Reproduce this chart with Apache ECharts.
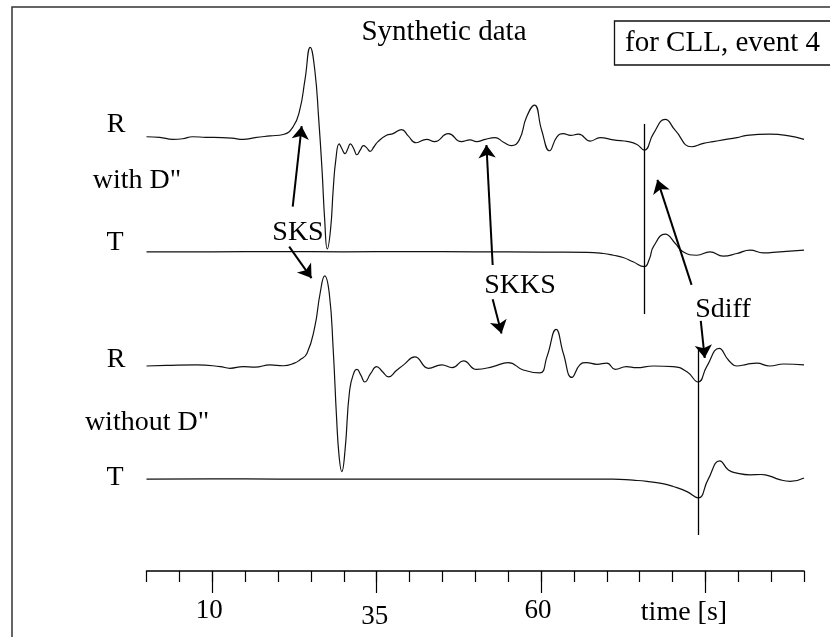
<!DOCTYPE html>
<html><head><meta charset="utf-8">
<script src="https://cdn.jsdelivr.net/npm/echarts@6/dist/echarts.min.js"></script>
<style>html,body{margin:0;padding:0;background:#fff}#c{width:830px;height:637px}</style>
</head><body><div id="c"></div><script>
// ---- axis ticks ----
const tickValues = [0,5,10,15,20,25,30,35,40,45,50,55,60,65,70,75,80,85,90,95,100];
const majorTicks = [10,35,60,85];
const tickLabels = [10,35,60];
const axisTitle = 'time [s]';

// ---- trace baselines (amplitude units) ----
const baseR1 = 75.9, baseT1 = 55.9, baseR2 = 35.9, baseT2 = 16.1;

// ---- traces: [time s, amplitude] ----
const R_withD = [[0,0.15],[2,0.05],[4,-0.3],[5.5,-0.2],[7,0.15],[9,0.05],[11.5,0],[13,-0.1],[14.7,-0.3],[16.5,0],[18.8,0.3],[20.8,0.55],[22.3,1.9],[23.3,4.8],[24.1,10.1],[24.9,15.8],[25.6,11.8],[26.2,3.1],[26.7,-5.7],[27.1,-14.4],[27.5,-19.5],[28.0,-16],[28.4,-9],[28.8,-3.8],[29.3,-1.1],[29.7,-1.9],[30.2,-2.8],[30.6,-2.0],[31.0,-1.1],[31.5,-1.9],[32.0,-3.0],[32.5,-2.2],[33.0,-1.4],[33.5,-1.8],[34.0,-2.4],[34.6,-1.6],[35.2,-0.7],[36.5,0.4],[37.5,0.7],[38.8,1.4],[39.8,0.3],[41.0,-0.9],[42.6,-0.3],[43.8,-0.7],[45.9,0.7],[47.9,-0.7],[49.2,-0.4],[50.2,-0.7],[51.5,-0.3],[53.0,0.0],[54.3,-0.8],[55.5,-1.4],[56.7,-0.4],[57.8,3.6],[59.0,5.7],[60.1,1.3],[61.3,-2.3],[62.4,0.1],[63.4,0.7],[64.5,0.4],[65.7,0.6],[67.5,-0.6],[69.0,0.0],[71.0,-0.4],[73.3,-0.7],[74.6,-1.2],[75.7,-2.2],[77.1,0.7],[78.9,3.2],[80.4,1.3],[82.9,-1.6],[84.7,-1.0],[86.2,-0.7],[87.7,-0.4],[89.8,0.0],[91.3,0.4],[94.8,0.6],[97.5,0.35],[100,-0.3]];
const T_withD = [[0,0],[10,0],[20,0.05],[30,0],[40,0.05],[50,0],[60,-0.05],[67,-0.1],[69.5,-0.3],[71,-0.6],[72.5,-1.0],[74,-1.75],[75.7,-2.6],[76.5,-1.2],[77.1,0.9],[78.9,3.1],[80.4,1.5],[81.6,0],[83.7,-0.6],[85.7,0],[87.7,-0.75],[89.8,-0.3],[91.8,0.3],[93.8,-0.2],[96.3,0],[100,0.3]];
const R_noD = [[0,0],[3,0.1],[7.6,0.2],[11.2,-0.1],[12.7,-0.4],[14.7,-0.1],[16.5,-0.2],[18.8,0.2],[20.8,0.05],[22.5,0.5],[23.3,1.05],[24.4,2.2],[25.6,6.9],[26.4,12.7],[27.1,15.8],[27.8,12.7],[28.4,2.8],[28.9,-8.9],[29.3,-15.9],[29.7,-18.5],[30.2,-14.7],[30.9,-4.2],[31.6,-1.0],[32.0,-0.6],[32.6,-1.6],[33.2,-2.8],[34.1,-1.3],[35.0,-0.1],[35.9,-1.0],[36.8,-1.9],[38.0,-0.8],[39.1,0.2],[40.8,1.6],[42.9,-0.4],[44.9,0.2],[46.5,-0.3],[48.2,0.9],[50.2,-0.6],[52.7,-0.1],[55.0,0.6],[57.3,-0.7],[59.8,-1.2],[60.9,1.6],[62.3,6.4],[63.4,2.2],[64.7,-2.0],[65.9,0.2],[66.9,0.6],[68.5,0.3],[70.0,0.5],[71.3,-0.6],[73.0,-0.1],[74.5,-0.3],[77.1,0.0],[80.1,-0.1],[82.2,-1.0],[83.9,-2.8],[85.2,-0.1],[87.1,3.1],[88.5,1.05],[89.8,0.0],[91.3,0.3],[92.8,0.5],[94.8,0.0],[96.9,0.35],[100,0.2]];
const T_noD = [[0,0],[10,0.05],[20,0],[30,0],[40,0],[50,0],[60,0],[71,0],[74,-0.2],[76.1,-0.4],[78.5,-0.8],[80.1,-1.3],[82.2,-2.2],[83.9,-3.3],[85.4,-0.1],[87.2,3.2],[88.5,1.6],[89.8,1.05],[91.8,0.75],[93.5,0.8],[94.1,0.75],[96.3,-0.1],[97.9,-0.4],[100,0.2]];

// ---- phase markers (vertical lines): [time, from, to] ----
const markerLines = [[75.7,78.3,45.0],[83.9,38.7,6.3]];
// ---- arrows: [t0, v0, t1(tip), v1(tip)] ----
const arrows = [[22.24,63.8,23.6,77.9],[21.7,56.8,25.1,51.3],[52.65,53.6,51.7,74.6],[52.65,47.6,54.0,41.6],[82.9,50.1,77.7,68.5],[84.3,43.8,84.9,37.3]];

const FONT = '"Liberation Serif","Times New Roman",serif';
const chart = echarts.init(document.getElementById('c'), null, {renderer:'canvas'});

function shift(arr, base){ return arr.map(p => [p[0], p[1] + base]); }
function trace(name, arr, base, extra){
  return Object.assign({name, type:'line', data: shift(arr, base), xAxisIndex:0, yAxisIndex:0,
    showSymbol:false, smooth:0.5, lineStyle:{color:'#111', width:1.2}, silent:true, z:3}, extra||{});
}

const txt = (text, x, y, size, extra) => Object.assign({type:'text', style:{text, x, y, font:(size||28)+'px '+FONT, fill:'#000', align:'center', verticalAlign:'middle'}, z:10}, extra||{});

chart.setOption({
  animation:false,
  backgroundColor:'#fff',
  grid:{left:146.5, right:26, top:0, bottom:66},
  xAxis:[
    {type:'value', min:0, max:100, position:'bottom', offset:0,
     axisLine:{show:true, onZero:false, lineStyle:{color:'#000', width:1.5}},
     axisTick:{show:true, customValues:tickValues, length:11, lineStyle:{color:'#000', width:1.2}},
     axisLabel:{show:false}, splitLine:{show:false}},
    {type:'value', min:0, max:100, position:'bottom', offset:0,
     axisLine:{show:false, onZero:false},
     axisTick:{show:true, customValues:majorTicks, length:22, lineStyle:{color:'#000', width:1.2}},
     axisLabel:{show:true, customValues:tickLabels, margin:26, fontSize:27, fontFamily:FONT, color:'#000',
       formatter: v => v === 35 ? '{lo|35}' : '{n|' + v + '}',
       rich:{n:{fontSize:27, fontFamily:FONT, color:'#000', padding:[0,6,0,0]},
             lo:{fontSize:27, fontFamily:FONT, color:'#000', padding:[6,4,0,0]}}},
     splitLine:{show:false}}
  ],
  yAxis:{type:'value', min:0, max:100, show:false},
  series:[
    trace('R with D', R_withD, baseR1),
    trace('T with D', T_withD, baseT1),
    trace('R without D', R_noD, baseR2),
    trace('T without D', T_noD, baseT2, {
      markLine:{silent:true, symbol:['none','arrow'], symbolSize:13, animation:false,
        lineStyle:{color:'#000', width:2, type:'solid'}, label:{show:false},
        data: arrows.map(a => [{coord:[a[0],a[1]]},{coord:[a[2],a[3]]}])}
    }),
    {type:'line', data:[], silent:true,
      markLine:{silent:true, symbol:['none','none'], animation:false,
        lineStyle:{color:'#000', width:1.3, type:'solid'}, label:{show:false},
        data: markerLines.map(m => [{coord:[m[0],m[1]]},{coord:[m[0],m[2]]}])}}
  ],
  graphic:[
    {type:'rect', shape:{x:12, y:7, width:840, height:660}, style:{fill:'none', stroke:'#333', lineWidth:1.5}, z:1},
    {type:'rect', shape:{x:614.5, y:21, width:240, height:44}, style:{fill:'none', stroke:'#111', lineWidth:1.3}, z:1},
    txt('Synthetic data', 444, 32, 29),
    txt('for CLL, event 4', 722.5, 43, 29),
    txt('R', 116, 124.5),
    txt('with D"', 137, 181),
    txt('T', 115, 243),
    txt('SKS', 298, 233),
    txt('SKKS', 520, 286),
    txt('Sdiff', 723, 310),
    txt('R', 116, 359.5),
    txt('without D"', 147, 423),
    txt('T', 115, 478),
    txt(axisTitle, 684, 613, 28)
  ]
});
</script></body></html>
